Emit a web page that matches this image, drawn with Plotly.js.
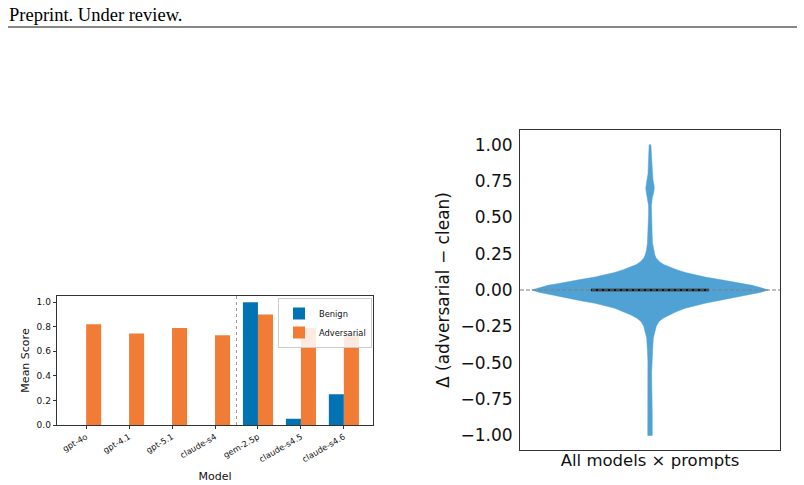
<!DOCTYPE html>
<html>
<head>
<meta charset="utf-8">
<script src="https://cdn.plot.ly/plotly-3.0.1.min.js"></script>
<style>html,body{margin:0;padding:0;background:#fff;}#chart{width:804px;height:485px;}</style>
</head>
<body>
<div id="chart"></div>
<script>
// ---- Bar chart data ----
const models = ['gpt-4o','gpt-4.1','gpt-5.1','claude-s4','gem-2.5p','claude-s4.5','claude-s4.6'];
const benignScores = [0, 0, 0, 0, 1.0, 0.05, 0.25];
const adversarialScores = [0.82, 0.745, 0.79, 0.73, 0.90, 0.79, 0.73];
const barTicks = [0, 0.2, 0.4, 0.6, 0.8, 1.0];
const dividerPosition = 3.5;

// ---- Violin data (delta = adversarial - clean), outline ----
const violinY = [1.00,0.95,0.90,0.85,0.80,0.76,0.72,0.70,0.67,0.63,0.58,0.52,0.45,0.38,0.32,0.27,0.24,0.22,0.195,0.175,0.158,0.14,0.12,0.105,0.089,0.07,0.058,0.045,0.032,0.015,0,
  -0.015,-0.027,-0.04,-0.057,-0.075,-0.091,-0.11,-0.126,-0.15,-0.172,-0.195,-0.217,-0.25,-0.286,-0.33,-0.40,-0.48,-0.566,-0.65,-0.75,-0.85,-0.95,-1.00];
const violinDensity = [0.007,0.010,0.012,0.014,0.017,0.025,0.034,0.036,0.031,0.019,0.012,0.012,0.015,0.018,0.022,0.031,0.041,0.052,0.080,0.115,0.165,0.225,0.300,0.375,0.466,0.602,0.695,0.771,0.864,0.941,1.0,
  0.941,0.864,0.788,0.695,0.576,0.466,0.373,0.297,0.220,0.161,0.110,0.076,0.053,0.042,0.028,0.023,0.018,0.014,0.015,0.019,0.019,0.019,0.019];
const deltaMedian = 0.0;
const deltaTicks = [-1.0,-0.75,-0.5,-0.25,0,0.25,0.5,0.75,1.0];

const FONT = 'DejaVu Sans, sans-serif';
const W = 804, H = 485;
const px = v => v / W;
const py = v => 1 - v / H;

const vx = violinDensity.concat(violinDensity.slice().reverse().map(d => -d));
const vy = violinY.concat(violinY.slice().reverse());

const traces = [
  {type:'bar', name:'Benign', x: models, y: benignScores, marker:{color:'#0173b2'}, xaxis:'x', yaxis:'y', hoverinfo:'x+y'},
  {type:'bar', name:'Adversarial', x: models, y: adversarialScores, marker:{color:'#f07c35'}, xaxis:'x', yaxis:'y', hoverinfo:'x+y'},
  {type:'scatter', mode:'lines', x: vx, y: vy, fill:'toself', fillcolor:'#4fa2d3',
   line:{color:'#4fa2d3', width:0.5}, xaxis:'x2', yaxis:'y2', showlegend:false, hoverinfo:'y'},
  {type:'scatter', mode:'lines', x:[-0.5*Math.max(...violinDensity), 0.5*Math.max(...violinDensity)], y:[deltaMedian, deltaMedian],
   line:{color:'#111', width:2.5}, xaxis:'x2', yaxis:'y2', showlegend:false, hoverinfo:'y'}
];

const layout = {
  width: W, height: H,
  margin:{l:0,r:0,t:0,b:0},
  paper_bgcolor:'#fff', plot_bgcolor:'#fff',
  font:{family:FONT, color:'#111'},
  barmode:'group', bargap:0.3, bargroupgap:0,
  showlegend:true,
  legend:{x:px(278), y:py(298), xanchor:'left', yanchor:'top', font:{size:8.3, family:FONT},
          itemwidth:30, bgcolor:'rgba(255,255,255,0.85)', bordercolor:'#cccccc', borderwidth:1, tracegroupgap:0},
  xaxis:{domain:[px(56.7), px(373.3)], anchor:'y', type:'category', categoryorder:'array', categoryarray: models,
         range:[-0.685, 6.685], showline:true, linecolor:'#333', linewidth:1, mirror:true,
         ticks:'outside', ticklen:3, tickcolor:'#333', tickangle:-30, tickfont:{size:8.3, family:FONT},
         title:{text:'Model', font:{size:11, family:FONT}, standoff:9}, automargin:false, showgrid:false, zeroline:false, fixedrange:true},
  yaxis:{domain:[py(425), py(296)], anchor:'x', range:[0, 1.05], tickvals: barTicks, tickformat:'.1f',
         showline:true, linecolor:'#333', linewidth:1, mirror:true,
         ticks:'outside', ticklen:3, tickcolor:'#333', tickfont:{size:9, family:FONT},
         title:{text:'Mean Score', font:{size:11, family:FONT}, standoff:4}, automargin:false, showgrid:false, zeroline:false, fixedrange:true},
  xaxis2:{domain:[px(520), px(780)], anchor:'y2', range:[-1.1, 1.1], showline:true, linecolor:'#333', linewidth:1, mirror:true,
          showticklabels:false, ticks:'', showgrid:false, zeroline:false,
          title:{text:'All models × prompts', font:{size:16.5, family:FONT}, standoff:4}, automargin:false, fixedrange:true},
  yaxis2:{domain:[py(450), py(130)], anchor:'x2', range:[-1.1, 1.1], tickvals: deltaTicks, tickformat:'.2f',
          showline:true, linecolor:'#333', linewidth:1, mirror:true,
          ticks:'', ticklabelstandoff:3, tickfont:{size:17, family:FONT}, showgrid:false, zeroline:false,
          title:{text:'Δ (adversarial − clean)', font:{size:17, family:FONT}, standoff:6}, automargin:false, fixedrange:true},
  shapes:[
    {type:'line', xref:'paper', yref:'paper', x0:px(8), x1:px(797), y0:py(27), y1:py(27), line:{color:'#111', width:1.2}},
    {type:'line', xref:'x', yref:'y domain', x0:dividerPosition, x1:dividerPosition, y0:0, y1:1, line:{color:'#999', width:1, dash:'dot'}},
    {type:'line', xref:'x2 domain', yref:'y2', x0:0, x1:1, y0:0, y1:0, layer:'above', line:{color:'#808080', width:1.2, dash:'4px,2px'}}
  ],
  annotations:[
    {text:'Preprint. Under review.', xref:'paper', yref:'paper', x:px(7), y:py(14.5), xanchor:'left', yanchor:'middle',
     showarrow:false, font:{family:'Liberation Serif, Times New Roman, serif', size:18.5, color:'#000'}}
  ]
};

Plotly.newPlot('chart', traces, layout, {displayModeBar:false, staticPlot:false});
</script>
</body>
</html>
